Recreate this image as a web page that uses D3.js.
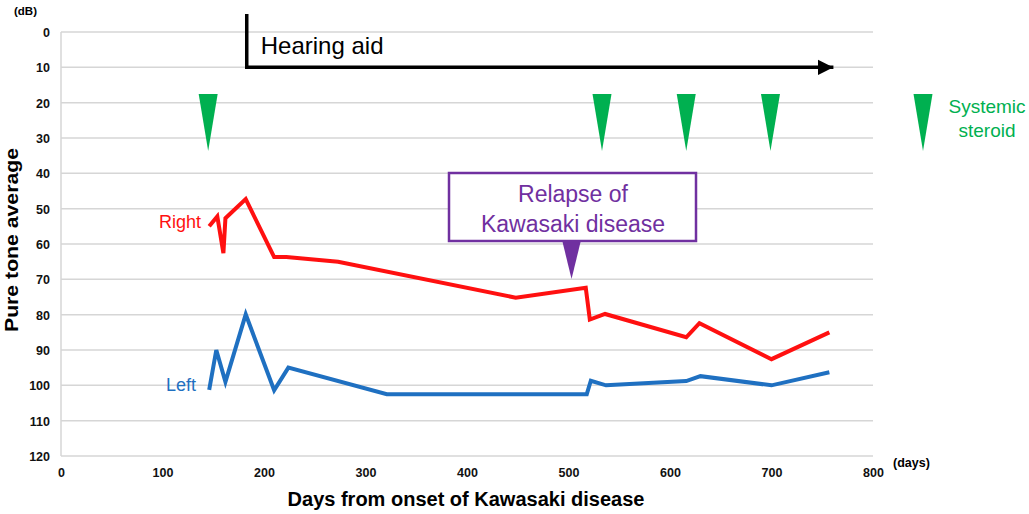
<!DOCTYPE html>
<html>
<head>
<meta charset="utf-8">
<script src="https://cdn.jsdelivr.net/npm/d3@7"></script>
<style>
  body { margin: 0; background: #fff; }
  text { font-family: Arial, "Liberation Sans", sans-serif; }
</style>
</head>
<body>
<div id="chart"></div>
<script>
// hearing level (dB) per day after onset
var rightDays = [146, 154, 160, 162, 182, 210, 222, 273, 448, 517, 521, 536, 616, 629, 700, 757];
var rightDb   = [55, 52.2, 62.6, 52.7, 47.3, 63.7, 63.7, 65, 75.2, 72.4, 81.4, 79.8, 86.4, 82.4, 92.6, 85];
var leftDays  = [146, 153, 162, 182, 210, 224, 321, 518, 522, 537, 616, 630, 700, 757];
var leftDb    = [101.3, 90, 99, 79.9, 101.4, 95, 102.5, 102.5, 98.7, 100, 98.8, 97.4, 100, 96.3];
var steroidDays = [145, 533, 616, 699];
var relapseDay = 503;
var hearingAidStart = 183, hearingAidEnd = 761;
var xTicks = [0, 100, 200, 300, 400, 500, 600, 700, 800];
var yTicks = [0, 10, 20, 30, 40, 50, 60, 70, 80, 90, 100, 110, 120];

var w = 1029, h = 514;
var margin = {top: 32, right: 156, bottom: 58, left: 61};

var svg = d3.select("#chart").append("svg")
  .attr("width", w)
  .attr("height", h);

var x = d3.scaleLinear().domain([0, 800]).range([margin.left, w - margin.right]);
var y = d3.scaleLinear().domain([0, 120]).range([margin.top, h - margin.bottom]);

// gridlines
svg.append("g")
  .selectAll("line")
  .data(yTicks)
  .enter()
  .append("line")
  .attr("x1", x(0))
  .attr("x2", x(800))
  .attr("y1", function(d) { return y(d); })
  .attr("y2", function(d) { return y(d); })
  .attr("stroke", "#d6d6d6")
  .attr("stroke-width", 1.5);

svg.append("line")
  .attr("x1", x(0)).attr("x2", x(0))
  .attr("y1", y(0)).attr("y2", y(120))
  .attr("stroke", "#d6d6d6")
  .attr("stroke-width", 1.5);

// axes (labels only)
var yAxis = svg.append("g")
  .attr("transform", "translate(" + (margin.left - 11) + ",0)")
  .call(d3.axisLeft(y).tickValues(yTicks).tickSize(0).tickPadding(0));
var xAxis = svg.append("g")
  .attr("transform", "translate(0," + (y(120) + 12) + ")")
  .call(d3.axisBottom(x).tickValues(xTicks).tickSize(0).tickPadding(0));
[xAxis, yAxis].forEach(function(a) {
  a.select(".domain").remove();
  a.selectAll("text")
    .attr("font-family", "Arial, 'Liberation Sans', sans-serif")
    .attr("font-size", "12.5px")
    .attr("font-weight", "bold")
    .attr("fill", "#111");
});
yAxis.selectAll("text").attr("dy", "0.35em");

svg.append("text")
  .attr("x", 14).attr("y", 15)
  .attr("font-size", "11.5px").attr("font-weight", "bold")
  .text("(dB)");
svg.append("text")
  .attr("x", 893).attr("y", 467)
  .attr("font-size", "12.5px").attr("font-weight", "bold")
  .text("(days)");

svg.append("text")
  .attr("transform", "translate(18,240) rotate(-90)")
  .attr("text-anchor", "middle")
  .attr("font-size", "18px").attr("font-weight", "bold")
  .attr("textLength", 184)
  .attr("lengthAdjust", "spacingAndGlyphs")
  .text("Pure tone average");
svg.append("text")
  .attr("x", 466).attr("y", 506)
  .attr("text-anchor", "middle")
  .attr("font-size", "20px").attr("font-weight", "bold")
  .text("Days from onset of Kawasaki disease");

// series
var line = d3.line()
  .x(function(d) { return x(d[0]); })
  .y(function(d) { return y(d[1]); });

svg.append("path")
  .datum(d3.zip(rightDays, rightDb))
  .attr("d", line)
  .attr("fill", "none")
  .attr("stroke", "#ff1010")
  .attr("stroke-width", 4)
  .attr("stroke-linejoin", "miter");

svg.append("path")
  .datum(d3.zip(leftDays, leftDb))
  .attr("d", line)
  .attr("fill", "none")
  .attr("stroke", "#1f70c1")
  .attr("stroke-width", 4);

svg.append("text")
  .attr("x", 201).attr("y", 228)
  .attr("text-anchor", "end")
  .attr("font-size", "18px")
  .attr("fill", "#ff1010")
  .text("Right");
svg.append("text")
  .attr("x", 196).attr("y", 391)
  .attr("text-anchor", "end")
  .attr("font-size", "18px")
  .attr("fill", "#1f70c1")
  .text("Left");

// hearing aid arrow
svg.append("defs").append("marker")
  .attr("id", "head")
  .attr("viewBox", "0 0 10 10")
  .attr("refX", 10).attr("refY", 5)
  .attr("markerWidth", 4.5).attr("markerHeight", 4.5)
  .attr("markerUnits", "strokeWidth")
  .attr("orient", "auto")
  .append("path")
  .attr("d", "M0,0L10,5L0,10Z")
  .attr("fill", "#000");

svg.append("path")
  .attr("d", "M" + x(hearingAidStart) + "," + 14 + "V" + y(10) + "H" + x(hearingAidEnd))
  .attr("fill", "none")
  .attr("stroke", "#000")
  .attr("stroke-width", 3.5)
  .attr("marker-end", "url(#head)");
svg.append("text")
  .attr("x", x(hearingAidStart) + 14).attr("y", 54)
  .attr("font-size", "24px")
  .attr("fill", "#000")
  .text("Hearing aid");

// steroid markers
function steroid(cx) {
  return "M" + (cx - 9.5) + "," + 94 + "L" + (cx + 9.5) + "," + 94 + "L" + cx + "," + 151 + "Z";
}
svg.append("g")
  .selectAll("path")
  .data(steroidDays)
  .enter()
  .append("path")
  .attr("d", function(d) { return steroid(x(d)); })
  .attr("fill", "#00b050");

svg.append("path").attr("d", steroid(923)).attr("fill", "#00b050");
svg.append("text")
  .attr("x", 987).attr("y", 113)
  .attr("text-anchor", "middle")
  .attr("font-size", "19px")
  .attr("fill", "#00b050")
  .text("Systemic");
svg.append("text")
  .attr("x", 987).attr("y", 137)
  .attr("text-anchor", "middle")
  .attr("font-size", "19px")
  .attr("fill", "#00b050")
  .text("steroid");

// relapse callout
var rx = x(relapseDay);
svg.append("rect")
  .attr("x", 449).attr("y", 173)
  .attr("width", 247).attr("height", 68)
  .attr("fill", "#fff")
  .attr("stroke", "#7030a0")
  .attr("stroke-width", 2.5);
svg.append("path")
  .attr("d", "M" + (rx - 9) + ",242L" + (rx + 9) + ",242L" + rx + "," + 279 + "Z")
  .attr("fill", "#7030a0");
svg.append("text")
  .attr("x", 573).attr("y", 202)
  .attr("text-anchor", "middle")
  .attr("font-size", "23px")
  .attr("fill", "#7030a0")
  .text("Relapse of");
svg.append("text")
  .attr("x", 573).attr("y", 232)
  .attr("text-anchor", "middle")
  .attr("font-size", "23px")
  .attr("fill", "#7030a0")
  .text("Kawasaki disease");
</script>
</body>
</html>
